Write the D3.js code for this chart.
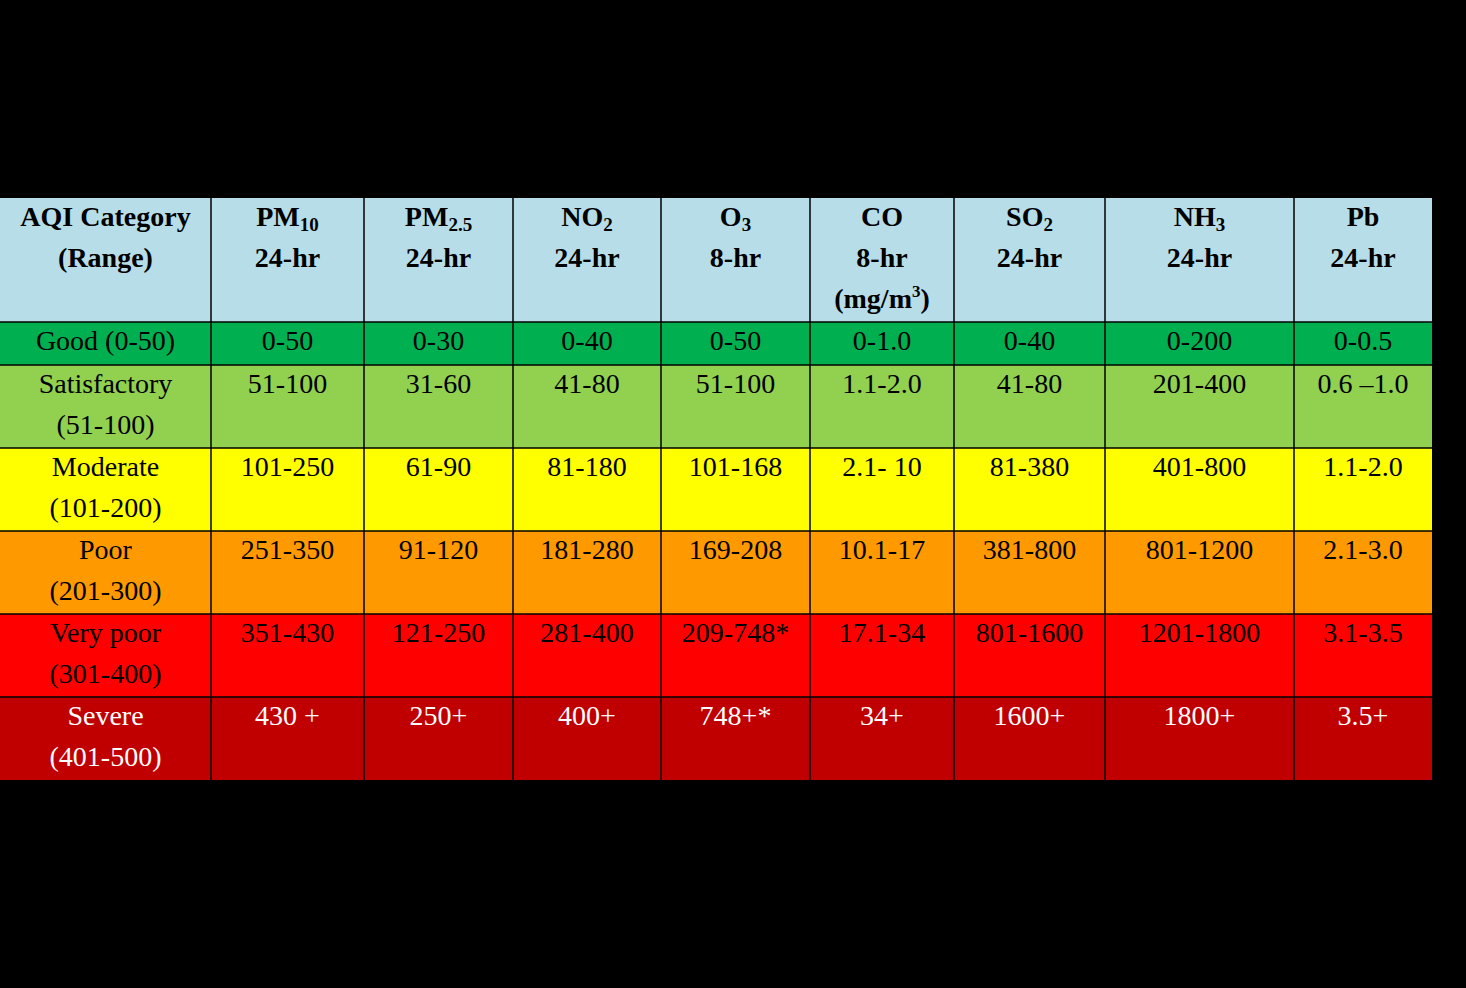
<!DOCTYPE html>
<html><head><meta charset="utf-8">
<script src="https://cdn.jsdelivr.net/npm/d3@7"></script>
<style>body{margin:0;background:#000;} text{font-family:"Liberation Serif","Times New Roman",serif;}</style>
</head><body>
<script>
// Table content
var pollutants = [["PM", "10"], ["PM", "2.5"], ["NO", "2"], ["O", "3"], ["CO", ""], ["SO", "2"], ["NH", "3"], ["Pb", ""]];
var periods = ["24-hr", "24-hr", "24-hr", "8-hr", "8-hr", "24-hr", "24-hr", "24-hr"];
var categories = [["Good (0-50)"], ["Satisfactory", "(51-100)"], ["Moderate", "(101-200)"], ["Poor", "(201-300)"], ["Very poor", "(301-400)"], ["Severe", "(401-500)"]];
var rowColors = ["#00b050", "#92d050", "#ffff00", "#ff9900", "#ff0000", "#c00000"];
var textColors = ["#000", "#000", "#000", "#000", "#000", "#fff"];
var values = [
  ["0-50", "0-30", "0-40", "0-50", "0-1.0", "0-40", "0-200", "0-0.5"],
  ["51-100", "31-60", "41-80", "51-100", "1.1-2.0", "41-80", "201-400", "0.6 \u20131.0"],
  ["101-250", "61-90", "81-180", "101-168", "2.1- 10", "81-380", "401-800", "1.1-2.0"],
  ["251-350", "91-120", "181-280", "169-208", "10.1-17", "381-800", "801-1200", "2.1-3.0"],
  ["351-430", "121-250", "281-400", "209-748*", "17.1-34", "801-1600", "1201-1800", "3.1-3.5"],
  ["430 +", "250+", "400+", "748+*", "34+", "1600+", "1800+", "3.5+"]
];
var colEdges = [0, 211, 364, 513, 661, 810, 954, 1105, 1294, 1432];
var rowEdges = [198, 322, 365, 448, 531, 614, 697, 780];

var svg = d3.select("body").append("svg").attr("width", 1466).attr("height", 988);
svg.append("rect").attr("width", 1466).attr("height", 988).attr("fill", "#000");

var fs = 28, lh = 41;

// header row
svg.append("rect").attr("x", colEdges[0]).attr("y", rowEdges[0])
  .attr("width", colEdges[9] - colEdges[0]).attr("height", rowEdges[1] - rowEdges[0]).attr("fill", "#b7dde8");

function cx(i) { return (colEdges[i] + colEdges[i + 1]) / 2; }

var hdr = svg.append("g").attr("font-weight", "bold").attr("font-size", fs).attr("text-anchor", "middle").attr("fill", "#000");
["AQI Category", "(Range)"].forEach(function (t, k) {
  hdr.append("text").attr("x", cx(0)).attr("y", rowEdges[0] + 28 + k * lh).text(t);
});
pollutants.forEach(function (p, i) {
  var t = hdr.append("text").attr("x", cx(i + 1)).attr("y", rowEdges[0] + 28);
  t.append("tspan").text(p[0]);
  if (p[1]) t.append("tspan").attr("font-size", 19).attr("dy", 5).text(p[1]);
  hdr.append("text").attr("x", cx(i + 1)).attr("y", rowEdges[0] + 28 + lh).text(periods[i]);
  if (p[0] === "CO") {
    var u = hdr.append("text").attr("x", cx(i + 1)).attr("y", rowEdges[0] + 28 + 2 * lh);
    u.append("tspan").text("(mg/m");
    u.append("tspan").attr("font-size", 17).attr("dy", -11).text("3");
    u.append("tspan").attr("dy", 11).text(")");
  }
});

// body rows
categories.forEach(function (c, r) {
  var y0 = rowEdges[r + 1], y1 = rowEdges[r + 2];
  svg.append("rect").attr("x", colEdges[0]).attr("y", y0).attr("width", colEdges[9] - colEdges[0])
    .attr("height", y1 - y0).attr("fill", rowColors[r]);
  var g = svg.append("g").attr("font-size", fs).attr("text-anchor", "middle").attr("fill", textColors[r]);
  c.forEach(function (t, k) {
    g.append("text").attr("x", cx(0)).attr("y", y0 + 28 + k * lh).text(t);
  });
  values[r].forEach(function (v, i) {
    g.append("text").attr("x", cx(i + 1)).attr("y", y0 + 28).text(v);
  });
});

// grid lines
svg.selectAll(".vl").data(colEdges.slice(1, 9)).enter().append("line")
  .attr("x1", function (d) { return d; }).attr("x2", function (d) { return d; })
  .attr("y1", rowEdges[0]).attr("y2", rowEdges[7]).attr("stroke", "#000").attr("stroke-width", 1.5);
svg.selectAll(".hl").data(rowEdges.slice(1, 7)).enter().append("line")
  .attr("x1", colEdges[0]).attr("x2", colEdges[9])
  .attr("y1", function (d) { return d; }).attr("y2", function (d) { return d; })
  .attr("stroke", "#000").attr("stroke-width", 1.5);
</script>
</body></html>
